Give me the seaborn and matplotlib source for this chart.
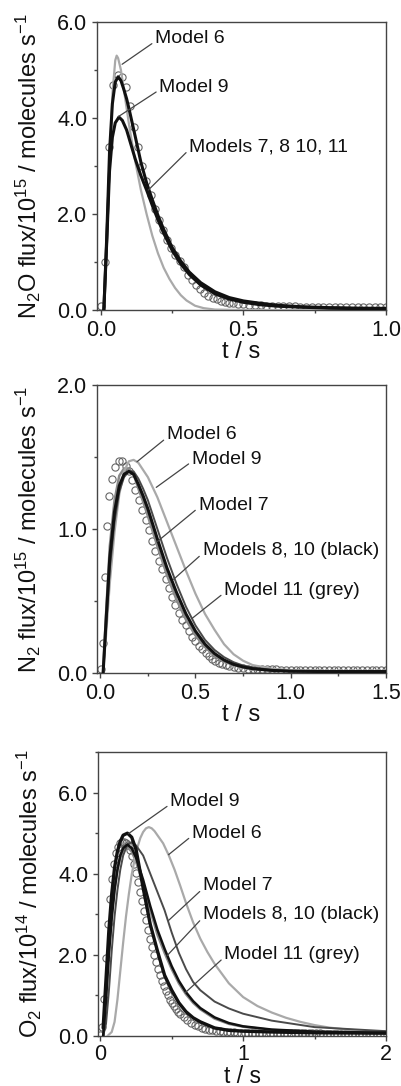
import numpy as np
import pandas as pd
import seaborn as sns
import matplotlib.pyplot as plt
from matplotlib.ticker import MultipleLocator, FormatStrFormatter

sns.set_theme(style='ticks')
plt.rcParams['font.family'] = ['Liberation Sans', 'DejaVu Sans']
plt.rcParams['mathtext.fontset'] = 'custom'
plt.rcParams['mathtext.rm'] = 'Liberation Sans'
plt.rcParams['mathtext.it'] = 'Liberation Sans:italic'
plt.rcParams['mathtext.bf'] = 'Liberation Sans:bold'

LIGHT = '#a9a9a9'
GREY = '#8a8a8a'
DARK = '#4a4a4a'
BLACK = '#111111'

# ---------------- N2O panel ----------------
n2o_obs_t = [0.000, 0.0145, 0.029, 0.0435, 0.058, 0.0725, 0.087, 0.1015, 0.116, 0.1305,
             0.145, 0.1595, 0.174, 0.1885, 0.203, 0.2175, 0.232, 0.2465, 0.261, 0.2755,
             0.290, 0.3045, 0.319, 0.3335, 0.348, 0.3625, 0.377, 0.3915, 0.406, 0.4205,
             0.435, 0.4495, 0.464,
             0.48, 0.50, 0.52, 0.54, 0.56, 0.58, 0.60, 0.62, 0.64, 0.66, 0.68, 0.70, 0.72,
             0.74, 0.76, 0.78, 0.80, 0.82, 0.84, 0.86, 0.88, 0.90, 0.92, 0.94, 0.96, 0.98, 1.00]
n2o_obs_y = [0.08, 1.0, 3.4, 4.69, 4.9, 4.85, 4.65, 4.25, 3.82, 3.4,
             3.0, 2.69, 2.4, 2.1, 1.88, 1.67, 1.46, 1.3, 1.15, 1.02,
             0.9, 0.74, 0.62, 0.52, 0.43, 0.36, 0.3, 0.25, 0.22, 0.19,
             0.165, 0.15, 0.14,
             0.13, 0.12, 0.11, 0.1, 0.095, 0.09, 0.085, 0.08, 0.08, 0.075, 0.075, 0.07, 0.07,
             0.07, 0.07, 0.07, 0.07, 0.07, 0.07, 0.07, 0.07, 0.07, 0.07, 0.07, 0.07, 0.07, 0.07]

n2o_m6_t = [0.010, 0.020, 0.030, 0.040, 0.050, 0.055, 0.060, 0.070, 0.080, 0.090, 0.100, 0.120,
            0.140, 0.160, 0.180, 0.200, 0.220, 0.240, 0.260, 0.280, 0.300, 0.330, 0.360, 0.400,
            0.500, 1.000]
n2o_m6_y = [0.0, 1.2, 3.0, 4.5, 5.2, 5.3, 5.25, 5.0, 4.6, 4.2, 3.8, 3.1,
            2.5, 2.0, 1.55, 1.18, 0.88, 0.65, 0.46, 0.31, 0.2, 0.09, 0.04, 0.01,
            0.0, 0.0]

n2o_m9_t = [0.010, 0.020, 0.030, 0.040, 0.050, 0.063, 0.075, 0.090, 0.105, 0.120, 0.140, 0.160,
            0.180, 0.200, 0.220, 0.250, 0.280, 0.310, 0.350, 0.400, 0.450, 0.500, 0.560, 0.620,
            0.700, 0.800, 0.900, 1.000]
n2o_m9_y = [0.0, 1.4, 2.9, 3.6, 3.9, 4.02, 3.95, 3.75, 3.45, 3.15, 2.8, 2.5,
            2.18, 1.88, 1.6, 1.24, 0.96, 0.74, 0.52, 0.34, 0.23, 0.16, 0.11, 0.08,
            0.06, 0.04, 0.03, 0.03]

n2o_m7_t = [0.010, 0.020, 0.030, 0.040, 0.050, 0.060, 0.070, 0.080, 0.090, 0.100, 0.120, 0.140,
            0.160, 0.180, 0.200, 0.220, 0.250, 0.280, 0.310, 0.350, 0.400, 0.450, 0.500, 0.560,
            0.620, 0.700, 0.800, 0.900, 1.000]
n2o_m7_y = [0.0, 1.5, 3.3, 4.3, 4.75, 4.86, 4.78, 4.6, 4.4, 4.15, 3.62, 3.08,
            2.65, 2.3, 1.97, 1.68, 1.3, 1.02, 0.79, 0.57, 0.38, 0.26, 0.19, 0.14,
            0.1, 0.07, 0.05, 0.04, 0.035]

# ---------------- N2 panel ----------------
n2_obs_t = [0.005, 0.012, 0.025, 0.035, 0.048, 0.063, 0.08, 0.098, 0.115, 0.133,
            0.15, 0.168, 0.185, 0.203, 0.22, 0.238, 0.255, 0.273, 0.29, 0.308,
            0.325, 0.343, 0.36, 0.378, 0.395, 0.413, 0.43, 0.448, 0.465, 0.483,
            0.50, 0.518, 0.535, 0.553, 0.57, 0.588, 0.605, 0.623, 0.64, 0.658, 0.675,
            0.70, 0.725, 0.75, 0.775, 0.80, 0.825, 0.85, 0.875, 0.90, 0.925, 0.95,
            0.975, 1.00, 1.025, 1.05, 1.075, 1.10, 1.125, 1.15, 1.175, 1.20, 1.225,
            1.25, 1.275, 1.30, 1.325, 1.35, 1.375, 1.40, 1.425, 1.45, 1.475, 1.50]
n2_obs_y = [0.03, 0.21, 0.67, 1.02, 1.23, 1.35, 1.43, 1.47, 1.47, 1.44,
            1.40, 1.34, 1.27, 1.2, 1.13, 1.06, 0.99, 0.92, 0.85, 0.78,
            0.72, 0.65, 0.59, 0.53, 0.47, 0.42, 0.37, 0.33, 0.29, 0.25,
            0.22, 0.19, 0.165, 0.14, 0.12, 0.1, 0.085, 0.072, 0.062, 0.053, 0.046,
            0.04, 0.036, 0.033, 0.031, 0.029, 0.028, 0.027, 0.026, 0.025, 0.025, 0.024,
            0.024, 0.024, 0.023, 0.023, 0.023, 0.022, 0.022, 0.022, 0.022, 0.021, 0.021,
            0.021, 0.021, 0.021, 0.02, 0.02, 0.02, 0.02, 0.02, 0.02, 0.02, 0.02]

n2_t = [0.015, 0.03, 0.05, 0.075, 0.1, 0.125, 0.15, 0.175, 0.2, 0.225, 0.25, 0.3,
        0.35, 0.4, 0.45, 0.5, 0.55, 0.6, 0.65, 0.7, 0.75, 0.8, 0.9, 1.0, 1.2, 1.5]
n2_m6_y = [0.0, 0.25, 0.62, 0.98, 1.24, 1.4, 1.47, 1.48, 1.46, 1.41, 1.36, 1.22,
           1.05, 0.88, 0.71, 0.55, 0.41, 0.3, 0.2, 0.13, 0.085, 0.055, 0.03, 0.02, 0.015, 0.015]
n2_m7_y = [0.0, 0.3, 0.72, 1.05, 1.26, 1.36, 1.40, 1.40, 1.35, 1.28, 1.2, 1.0,
           0.8, 0.62, 0.46, 0.33, 0.23, 0.16, 0.11, 0.075, 0.052, 0.038, 0.022, 0.015, 0.011, 0.01]
n2_m8_y = [0.0, 0.35, 0.8, 1.12, 1.3, 1.38, 1.40, 1.38, 1.31, 1.23, 1.14, 0.93,
           0.73, 0.56, 0.41, 0.29, 0.2, 0.135, 0.09, 0.06, 0.042, 0.03, 0.018, 0.012, 0.01, 0.01]
n2_m11_y = [0.0, 0.4, 0.88, 1.2, 1.37, 1.42, 1.42, 1.38, 1.28, 1.19, 1.09, 0.88,
            0.68, 0.51, 0.37, 0.26, 0.18, 0.12, 0.08, 0.055, 0.038, 0.028, 0.016, 0.011, 0.01, 0.01]

# ---------------- O2 panel ----------------
o2_obs_t = [0.0, 0.014, 0.028, 0.042, 0.056, 0.07, 0.084, 0.098, 0.112, 0.126,
            0.14, 0.154, 0.168, 0.182, 0.196, 0.21, 0.224, 0.238, 0.252, 0.266,
            0.28, 0.294, 0.308, 0.322, 0.336, 0.35, 0.364, 0.378, 0.392, 0.406,
            0.42, 0.434, 0.448, 0.462, 0.476, 0.49, 0.504, 0.518, 0.532, 0.546, 0.56,
            0.585, 0.61, 0.635, 0.66, 0.685, 0.71, 0.735, 0.76, 0.785, 0.81, 0.835,
            0.86, 0.885, 0.91, 0.935, 0.96, 0.985, 1.01, 1.035, 1.06, 1.085, 1.11,
            1.135, 1.16, 1.185, 1.21, 1.235, 1.26, 1.285, 1.31, 1.335, 1.36, 1.385,
            1.41, 1.435, 1.46, 1.485, 1.51, 1.535, 1.56, 1.585, 1.61, 1.635, 1.66,
            1.685, 1.71, 1.735, 1.76, 1.785, 1.81, 1.835, 1.86, 1.885, 1.91, 1.935,
            1.96, 1.985]
o2_obs_y = [0.02, 0.22, 0.91, 1.93, 2.75, 3.38, 3.86, 4.25, 4.5, 4.67,
            4.76, 4.79, 4.79, 4.76, 4.7, 4.58, 4.43, 4.25, 4.03, 3.8,
            3.56, 3.32, 3.08, 2.85, 2.62, 2.4, 2.2, 2.0, 1.82, 1.65,
            1.5, 1.36, 1.23, 1.11, 1.0, 0.9, 0.81, 0.73, 0.66, 0.6, 0.54,
            0.46, 0.39, 0.33, 0.28, 0.24, 0.21, 0.18, 0.16, 0.14, 0.13, 0.12,
            0.11, 0.10, 0.095, 0.09, 0.085, 0.08, 0.08, 0.078, 0.076, 0.075, 0.074,
            0.073, 0.072, 0.071, 0.07, 0.07, 0.069, 0.068, 0.068, 0.067, 0.066, 0.066,
            0.065, 0.065, 0.064, 0.064, 0.063, 0.063, 0.062, 0.062, 0.062, 0.061, 0.061,
            0.061, 0.06, 0.06, 0.06, 0.06, 0.059, 0.059, 0.059, 0.058, 0.058, 0.058,
            0.058, 0.058]

o2_m6_t = [0.05, 0.08, 0.10, 0.12, 0.14, 0.16, 0.18, 0.20, 0.22, 0.24, 0.26, 0.28, 0.30,
           0.32, 0.34, 0.36, 0.38, 0.40, 0.44, 0.48, 0.52, 0.56, 0.60, 0.65, 0.70, 0.75,
           0.80, 0.90, 1.0, 1.1, 1.2, 1.3, 1.4, 1.5, 1.6, 1.7, 1.8, 1.9, 2.0]
o2_m6_y = [0.0, 0.1, 0.35, 0.9, 1.6, 2.3, 2.95, 3.5, 3.98, 4.35, 4.65, 4.88, 5.03,
           5.12, 5.15, 5.12, 5.05, 4.95, 4.75, 4.45, 4.1, 3.7, 3.28, 2.8, 2.4, 2.07,
           1.78, 1.3, 0.96, 0.74, 0.58, 0.45, 0.35, 0.27, 0.21, 0.17, 0.14, 0.11, 0.1]

o2_t = [0.02, 0.04, 0.06, 0.08, 0.10, 0.12, 0.14, 0.16, 0.19, 0.22, 0.25, 0.30, 0.35,
        0.40, 0.45, 0.50, 0.55, 0.60, 0.65, 0.70, 0.80, 0.90, 1.0, 1.2, 1.5, 2.0]
o2_m7_y = [0.0, 0.3, 1.1, 2.1, 2.95, 3.6, 4.1, 4.45, 4.72, 4.78, 4.7, 4.45, 4.0,
           3.55, 3.1, 2.55, 2.05, 1.65, 1.33, 1.13, 0.85, 0.68, 0.55, 0.38, 0.22, 0.12]
o2_m9_y = [0.2, 1.4, 2.6, 3.5, 4.15, 4.55, 4.8, 4.95, 5.0, 4.9, 4.6, 3.65, 2.75,
           2.1, 1.5, 1.13, 0.82, 0.6, 0.45, 0.35, 0.2, 0.14, 0.12, 0.1, 0.08, 0.07]
o2_m8_y = [0.0, 0.9, 2.0, 2.9, 3.6, 4.1, 4.45, 4.63, 4.72, 4.63, 4.4, 3.85, 3.2,
           2.62, 2.15, 1.72, 1.36, 1.08, 0.86, 0.69, 0.46, 0.32, 0.24, 0.16, 0.11, 0.08]
o2_m11_y = [0.0, 1.0, 2.1, 3.0, 3.65, 4.1, 4.4, 4.58, 4.65, 4.55, 4.3, 3.75, 3.1,
            2.5, 2.05, 1.65, 1.3, 1.03, 0.82, 0.66, 0.43, 0.3, 0.23, 0.15, 0.1, 0.07]


def draw_panel(ax, obs_t, obs_y, curves, notes, xlim, ylim, xstep, ystep, xfmt, ylabel,
               xlabelsize=17, xpad=3.5):
    obs = pd.DataFrame({'t': obs_t, 'y': obs_y})
    sns.lineplot(data=obs, x='t', y='y', ax=ax, estimator=None, sort=False,
                 marker='o', linestyle='none', markerfacecolor='none',
                 markeredgecolor='#666666', markeredgewidth=0.8, markersize=5.2, zorder=1)
    for t, y, color, lw in curves:
        sns.lineplot(x=t, y=y, ax=ax, estimator=None, sort=False,
                     color=color, linewidth=lw, zorder=3)
    for text, xy, xytext in notes:
        ax.annotate(text, xy=xy, xytext=xytext, fontsize=14, ha='left', va='center',
                    color='#111111', zorder=5,
                    arrowprops=dict(arrowstyle='-', color='#444444', lw=0.9,
                                    shrinkA=0, shrinkB=0, relpos=(0, 0.35)))
    ax.set_xlim(*xlim)
    ax.set_ylim(*ylim)
    ax.xaxis.set_major_locator(MultipleLocator(xstep))
    ax.xaxis.set_minor_locator(MultipleLocator(xstep / 2))
    ax.yaxis.set_major_locator(MultipleLocator(ystep))
    ax.yaxis.set_minor_locator(MultipleLocator(ystep / 2))
    ax.xaxis.set_major_formatter(FormatStrFormatter(xfmt))
    ax.yaxis.set_major_formatter(FormatStrFormatter('%.1f'))
    ax.tick_params(which='both', direction='out', colors='#444444', labelcolor='#111111',
                   labelsize=15.5, width=1.0)
    ax.tick_params(which='major', length=3.5)
    ax.tick_params(axis='y', which='major', pad=3.5)
    ax.tick_params(axis='x', which='major', pad=xpad)
    ax.tick_params(which='minor', length=2.5)
    for s in ax.spines.values():
        s.set_visible(True)
        s.set_color('#444444')
        s.set_linewidth(1.0)
    ax.set_xlabel('t / s', fontsize=xlabelsize, labelpad=0, color='#111111')
    ax.set_ylabel(ylabel, fontsize=17, labelpad=10, color='#111111')


fig = plt.figure(figsize=(4.01, 10.86), dpi=100)
ax1 = fig.add_axes([0.2419, 0.7145, 0.7207, 0.2652])
ax2 = fig.add_axes([0.2419, 0.3803, 0.7207, 0.2652])
ax3 = fig.add_axes([0.2444, 0.0460, 0.7182, 0.2615])

draw_panel(ax1, n2o_obs_t, n2o_obs_y,
           [(n2o_m6_t, n2o_m6_y, LIGHT, 1.6),
            (n2o_m9_t, n2o_m9_y, BLACK, 2.2),
            (n2o_m7_t, n2o_m7_y, BLACK, 2.2)],
           [('Model 6', (0.074, 5.12), (0.19, 5.65)),
            ('Model 9', (0.061, 4.03), (0.205, 4.64)),
            ('Models 7, 8 10, 11', (0.166, 2.5), (0.31, 3.4))],
           (-0.014, 1.0), (0, 6), 0.5, 2.0, '%.1f',
           r'N$_2$O flux/10$^{15}$ / molecules s$^{-1}$')

draw_panel(ax2, n2_obs_t, n2_obs_y,
           [(n2_t, n2_m11_y, GREY, 1.8),
            (n2_t, n2_m6_y, LIGHT, 1.6),
            (n2_t, n2_m7_y, DARK, 1.4),
            (n2_t, n2_m8_y, BLACK, 2.2)],
           [('Model 6', (0.193, 1.467), (0.35, 1.653)),
            ('Model 9', (0.294, 1.289), (0.481, 1.486)),
            ('Model 7', (0.297, 0.91), (0.516, 1.166)),
            ('Models 8, 10 (black)', (0.385, 0.65), (0.537, 0.848)),
            ('Model 11 (grey)', (0.481, 0.378), (0.651, 0.575))],
           (-0.017, 1.5), (0, 2), 0.5, 1.0, '%.1f',
           r'N$_2$ flux/10$^{15}$ / molecules s$^{-1}$')

draw_panel(ax3, o2_obs_t, o2_obs_y,
           [(o2_t, o2_m11_y, GREY, 1.8),
            (o2_m6_t, o2_m6_y, LIGHT, 1.6),
            (o2_t, o2_m7_y, DARK, 1.4),
            (o2_t, o2_m8_y, BLACK, 1.8),
            (o2_t, o2_m9_y, BLACK, 2.4)],
           [('Model 9', (0.198, 4.99), (0.49, 5.78)),
            ('Model 6', (0.478, 4.47), (0.642, 5.0)),
            ('Model 7', (0.478, 2.85), (0.719, 3.7)),
            ('Models 8, 10 (black)', (0.467, 1.98), (0.719, 2.99)),
            ('Model 11 (grey)', (0.595, 1.07), (0.869, 2.01))],
           (-0.016, 2.0), (0, 7), 1.0, 2.0, '%d',
           r'O$_2$ flux/10$^{14}$ / molecules s$^{-1}$', xlabelsize=16.5, xpad=2.0)

fig.savefig('out.png', dpi=100)
